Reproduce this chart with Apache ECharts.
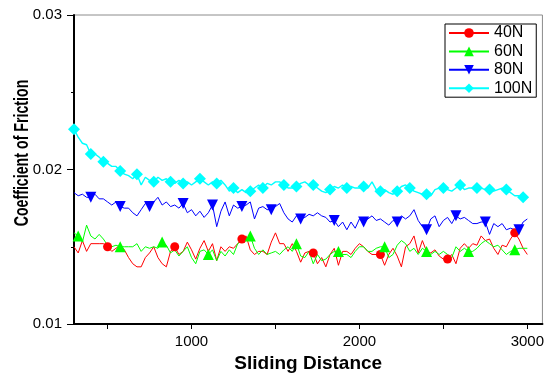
<!DOCTYPE html>
<html>
<head>
<meta charset="utf-8">
<script src="https://cdn.jsdelivr.net/npm/echarts@6/dist/echarts.min.js"></script>
<style>html,body{margin:0;padding:0;background:#fff;}#chart{width:547px;height:378px;}</style>
</head>
<body>
<div id="chart"></div>
<script>
// Sliding distance sample positions
const distance = [300,325,350,375,400,425,450,475,500,525,550,575,600,625,650,675,700,725,750,775,800,825,850,
875,900,925,950,975,1000,1025,1050,1075,1100,1125,1150,1175,1200,1225,1250,1275,1300,1325,1350,1375,1400,
1425,1450,1475,1500,1525,1550,1575,1600,1625,1650,1675,1700,1725,1750,1775,1800,1825,1850,1875,1900,
1925,1950,1975,2000,2025,2050,2075,2100,2125,2150,2175,2200,2225,2250,2275,2300,2325,2350,2375,2400,2425,2450,2475,2500,
2525,2550,2575,2600,2625,2650,2675,2700,2725,2750,2775,2800,2825,2850,2875,2900,2925,2950,2975,3000];

const cof40N = [0.0150,0.0146,0.0154,0.0147,0.0152,0.0152,0.0152,0.0152,0.0150,0.0147,0.0149,0.0151,0.0148,0.0143,0.0139,0.0137,0.0137,0.0143,0.0146,0.0150,0.0143,0.0139,0.0137,
0.0147,0.0150,0.0145,0.0147,0.0153,0.0148,0.0142,0.0149,0.0154,0.0147,0.0152,0.0141,0.0150,0.0147,0.0150,0.0149,0.0152,0.0155,0.0157,0.0148,0.0145,0.0147,
0.0147,0.0145,0.0153,0.0159,0.0152,0.0152,0.0147,0.0152,0.0147,0.0140,0.0146,0.0147,0.0146,0.0139,0.0143,0.0137,0.0145,0.0149,0.0138,0.0147,
0.0147,0.0145,0.0149,0.0152,0.0150,0.0147,0.0145,0.0145,0.0145,0.0138,0.0145,0.0149,0.0144,0.0137,0.0150,0.0152,0.0157,0.0146,0.0154,0.0147,0.0146,0.0148,0.0144,0.0142,
0.0142,0.0145,0.0139,0.0149,0.0152,0.0149,0.0152,0.0151,0.0157,0.0154,0.0155,0.0149,0.0145,0.0151,0.0150,0.0155,0.0159,0.0155,0.0149,0.0145];

const cof60N = [0.0159,0.0157,0.0153,0.0164,0.0157,0.0155,0.0158,0.0155,0.0151,0.0150,0.0151,0.0150,0.0150,0.0150,0.0150,0.0152,0.0147,0.0150,0.0149,0.0150,0.0149,0.0153,0.0151,
0.0146,0.0148,0.0144,0.0147,0.0150,0.0143,0.0139,0.0147,0.0148,0.0145,0.0148,0.0141,0.0147,0.0144,0.0148,0.0145,0.0152,0.0154,0.0155,0.0157,0.0149,0.0145,
0.0148,0.0145,0.0146,0.0147,0.0145,0.0148,0.0150,0.0147,0.0152,0.0144,0.0143,0.0147,0.0139,0.0145,0.0141,0.0142,0.0145,0.0147,0.0147,0.0145,
0.0145,0.0143,0.0147,0.0150,0.0150,0.0147,0.0147,0.0149,0.0150,0.0150,0.0143,0.0145,0.0151,0.0154,0.0152,0.0147,0.0149,0.0145,0.0149,0.0147,0.0145,0.0147,0.0145,0.0147,
0.0145,0.0143,0.0150,0.0147,0.0149,0.0147,0.0147,0.0149,0.0152,0.0154,0.0152,0.0150,0.0151,0.0148,0.0145,0.0147,0.0148,0.0149,0.0149,0.0149];

const cof80N = [0.0185,0.0183,0.0184,0.0182,0.0182,0.0184,0.0181,0.0181,0.0179,0.0177,0.0179,0.0176,0.0175,0.0175,0.0172,0.0170,0.0174,0.0178,0.0176,0.0179,0.0182,0.0177,0.0179,
0.0176,0.0177,0.0175,0.0178,0.0172,0.0174,0.0170,0.0173,0.0169,0.0172,0.0177,0.0163,0.0173,0.0179,0.0170,0.0177,0.0175,0.0176,0.0177,0.0179,0.0168,0.0175,
0.0176,0.0174,0.0174,0.0176,0.0178,0.0172,0.0168,0.0166,0.0170,0.0168,0.0169,0.0171,0.0170,0.0172,0.0170,0.0169,0.0166,0.0167,0.0163,0.0166,
0.0161,0.0166,0.0162,0.0168,0.0166,0.0168,0.0170,0.0167,0.0168,0.0166,0.0164,0.0167,0.0166,0.0170,0.0168,0.0170,0.0174,0.0167,0.0163,0.0161,0.0168,0.0170,0.0163,0.0167,
0.0169,0.0165,0.0170,0.0168,0.0169,0.0167,0.0165,0.0165,0.0166,0.0166,0.0158,0.0165,0.0163,0.0165,0.0161,0.0162,0.0161,0.0161,0.0166,0.0168];

const cof100N = [0.0226,0.0221,0.0217,0.0216,0.0210,0.0210,0.0208,0.0205,0.0204,0.0202,0.0202,0.0199,0.0197,0.0196,0.0194,0.0197,0.0190,0.0195,0.0193,0.0192,0.0195,0.0193,0.0194,
0.0192,0.0191,0.0193,0.0191,0.0192,0.0190,0.0192,0.0194,0.0192,0.0190,0.0192,0.0191,0.0193,0.0190,0.0186,0.0188,0.0185,0.0187,0.0185,0.0186,0.0188,0.0190,
0.0188,0.0191,0.0190,0.0192,0.0192,0.0190,0.0188,0.0188,0.0189,0.0191,0.0192,0.0190,0.0190,0.0188,0.0186,0.0185,0.0187,0.0189,0.0188,0.0190,
0.0188,0.0189,0.0188,0.0188,0.0189,0.0188,0.0192,0.0187,0.0186,0.0187,0.0185,0.0184,0.0186,0.0189,0.0190,0.0188,0.0186,0.0185,0.0184,0.0184,0.0183,0.0187,0.0188,0.0188,
0.0187,0.0186,0.0188,0.0190,0.0187,0.0188,0.0188,0.0188,0.0188,0.0187,0.0187,0.0186,0.0187,0.0188,0.0187,0.0185,0.0183,0.0183,0.0182,0.0182];

// distances where each curve carries a marker symbol
const markers40N = [500,900,1300,1725,2125,2525,2925];
const markers60N = [325,575,825,1100,1350,1625,1875,2150,2400,2650,2925];
const markers80N = [400,575,750,950,1125,1300,1475,1650,1850,2025,2225,2400,2575,2750,2950];
const markers100N = [300,400,475,575,675,775,875,950,1050,1150,1250,1350,1425,1550,1625,1725,1825,1925,2025,2125,2225,2300,2400,2500,2600,2700,2775,2875,2975];

const seriesNames = ['40N','60N','80N','100N'];
const xTickValues = [500,1000,1500,2000,2500,3000];
const xLabelValues = [1000,2000,3000];

const FONT = 'Liberation Sans, Arial, Helvetica, sans-serif';

function makeSeries(name, values, marks, color, symbol, size, width) {
  const set = new Set(marks);
  return {
    name: name,
    type: 'line',
    data: distance.map((d, i) => [d, values[i]]),
    symbol: symbol,
    showSymbol: true,
    showAllSymbol: true,
    symbolSize: function (v) { return set.has(v[0]) ? size : 0; },
    lineStyle: { color: color, width: width },
    itemStyle: { color: color },
    emphasis: { disabled: true },
    animation: false,
    z: 2
  };
}

const chart = echarts.init(document.getElementById('chart'), null, { renderer: 'canvas' });
chart.setOption({
  backgroundColor: '#fff',
  animation: false,
  grid: { left: 74, right: 4, top: 15, bottom: 52, show: true, borderColor: '#8c8c8c', borderWidth: 1, backgroundColor: 'transparent' },
  legend: {
    data: seriesNames,
    orient: 'vertical',
    left: 445,
    top: 24,
    padding: [1, 4, 1, 3],
    itemWidth: 40,
    itemHeight: 12,
    itemGap: 2.4,
    borderColor: '#000',
    borderWidth: 1,
    backgroundColor: '#fff',
    textStyle: { fontSize: 16, fontFamily: FONT, color: '#000', lineHeight: 16 },
    selectedMode: false
  },
  xAxis: {
    type: 'value',
    min: 300,
    max: 3090,
    name: 'Sliding Distance',
    nameLocation: 'middle',
    nameGap: 30,
    nameTextStyle: { fontSize: 19, fontWeight: 'bold', fontFamily: FONT, color: '#000' },
    axisLine: { show: true, onZero: false, lineStyle: { color: '#000', width: 2 } },
    axisTick: { show: true, customValues: xTickValues, length: 5, lineStyle: { color: '#000', width: 1 } },
    axisLabel: { customValues: xLabelValues, formatter: v => String(v), fontSize: 15, fontFamily: FONT, color: '#000', margin: 10 },
    splitLine: { show: false }
  },
  yAxis: {
    type: 'value',
    min: 0.01,
    max: 0.03,
    interval: 0.01,
    axisLine: { show: true, onZero: false, lineStyle: { color: '#000', width: 2 } },
    axisTick: { show: true, length: 7, lineStyle: { color: '#000', width: 1 } },
    minorTick: { show: true, splitNumber: 2, length: 3, lineStyle: { color: '#000', width: 1 } },
    axisLabel: { formatter: v => v.toFixed(2), fontSize: 15, fontFamily: FONT, color: '#000', margin: 12 },
    splitLine: { show: false }
  },
  graphic: [{
    type: 'text',
    x: 22,
    y: 153,
    rotation: Math.PI / 2,
    scaleX: 0.71,
    style: { text: 'Coefficient of Friction', fontSize: 20, fontWeight: 'bold', fontFamily: FONT, fill: '#000', align: 'center', verticalAlign: 'middle' }
  }],
  series: [
    makeSeries('40N', cof40N, markers40N, '#ff0000', 'circle', 9, 1),
    makeSeries('60N', cof60N, markers60N, '#00ff00', 'triangle', 11, 1),
    makeSeries('80N', cof80N, markers80N, '#0000ff', 'path://M0,0 L10,0 L5,9 Z', 11, 1),
    makeSeries('100N', cof100N, markers100N, '#00ffff', 'diamond', 12, 1.4)
  ]
});
</script>
</body>
</html>
